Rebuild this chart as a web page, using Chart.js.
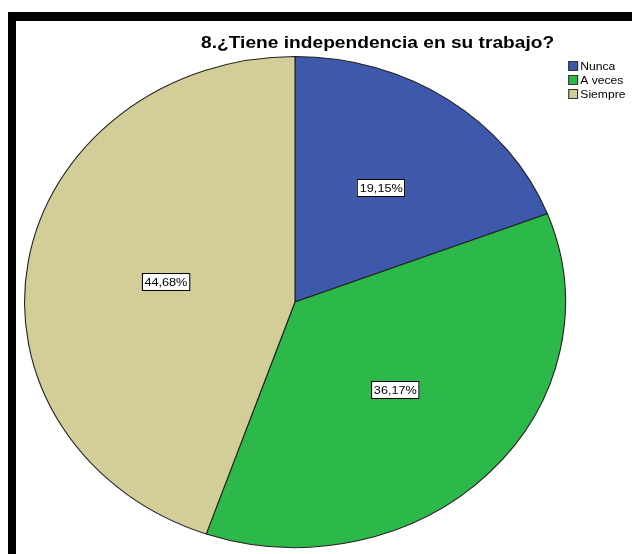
<!DOCTYPE html>
<html>
<head>
<meta charset="utf-8">
<script src="https://cdn.jsdelivr.net/npm/chart.js@4"></script>
<style>
    body { margin: 0; background: #fff; width: 632px; height: 554px; overflow: hidden; position: relative; }
    .frame { position: absolute; left: 8px; top: 12px; width: 700px; height: 600px; border-top: 9px solid #000; border-left: 8px solid #000; }
    #pieChart { position: absolute; left: 16px; top: 21px; }
</style>
</head>
<body>
<div class="frame"></div>
<canvas id="pieChart" width="616" height="533" style="width:616px;height:533px"></canvas>
<script>
const chartTitle = '8.¿Tiene independencia en su trabajo?';
const categories = ['Nunca', 'A veces', 'Siempre'];
const percents = [19.15, 36.17, 44.68];
const sliceColors = ['#3e58ac', '#2db84a', '#d3ce98'];

// the pie is stretched sideways, so everything is drawn in an unstretched space
const stretchX = 1.1016;
const pieCenterX = 279;

const stretchPlugin = {
    id: 'stretch',
    beforeDraw(chart) {
        const ctx = chart.ctx;
        ctx.save();
        ctx.translate(pieCenterX, 0);
        ctx.scale(stretchX, 1);
        ctx.translate(-pieCenterX, 0);
    },
    afterDraw(chart) {
        chart.ctx.restore();
    }
};

const textPlugin = {
    id: 'pieText',
    afterDatasetsDraw(chart) {
        const ctx = chart.ctx;
        ctx.save();

        // title
        ctx.fillStyle = '#000';
        ctx.font = 'bold 17.4px "Liberation Sans", Arial, sans-serif';
        ctx.textAlign = 'center';
        ctx.textBaseline = 'alphabetic';
        ctx.fillText(chartTitle, 354, 27);

        // legend
        ctx.font = '11px "Liberation Sans", Arial, sans-serif';
        ctx.textAlign = 'left';
        ctx.textBaseline = 'middle';
        categories.forEach((name, i) => {
            const y = 40 + i * 14;
            ctx.fillStyle = sliceColors[i];
            ctx.fillRect(527, y, 9, 10);
            ctx.strokeStyle = '#333';
            ctx.lineWidth = 1;
            ctx.strokeRect(527.5, y + 0.5, 8, 9);
            ctx.fillStyle = '#000';
            ctx.fillText(name, 538, y + 5.5);
        });

        // value labels in white boxes, halfway between mid-radius and the slice centroid
        ctx.font = '11.5px "Liberation Sans", Arial, sans-serif';
        ctx.textAlign = 'center';
        const meta = chart.getDatasetMeta(0);
        meta.data.forEach((arc, i) => {
            const p = arc.getProps(['x', 'y', 'startAngle', 'endAngle', 'outerRadius']);
            const sweep = p.endAngle - p.startAngle;
            const mid = (p.startAngle + p.endAngle) / 2;
            const centroid = 4 * p.outerRadius * Math.sin(sweep / 2) / (3 * sweep);
            const r = (p.outerRadius * 0.5 + centroid) / 2;
            const x = p.x + Math.cos(mid) * r;
            const y = p.y + Math.sin(mid) * r;
            const text = percents[i].toFixed(2).replace('.', ',') + '%';
            const w = ctx.measureText(text).width + 5;
            const h = 18;
            ctx.fillStyle = '#fff';
            ctx.fillRect(Math.round(x - w / 2), Math.round(y - h / 2), Math.round(w), h);
            ctx.strokeStyle = '#000';
            ctx.strokeRect(Math.round(x - w / 2) + 0.5, Math.round(y - h / 2) + 0.5, Math.round(w) - 1, h - 1);
            ctx.fillStyle = '#000';
            ctx.fillText(text, x, y + 1);
        });

        ctx.restore();
    }
};

const ctx = document.getElementById('pieChart').getContext('2d');
new Chart(ctx, {
    type: 'pie',
    data: {
        labels: categories,
        datasets: [{
            data: percents,
            backgroundColor: sliceColors,
            borderColor: '#222',
            borderWidth: 1,
            hoverOffset: 0
        }]
    },
    options: {
        responsive: false,
        animation: false,
        events: [],
        layout: {
            padding: { top: 35, bottom: 6, left: 33, right: 91 }
        },
        plugins: {
            legend: { display: false },
            title: { display: false },
            tooltip: { enabled: false }
        }
    },
    plugins: [stretchPlugin, textPlugin]
});
</script>
</body>
</html>
